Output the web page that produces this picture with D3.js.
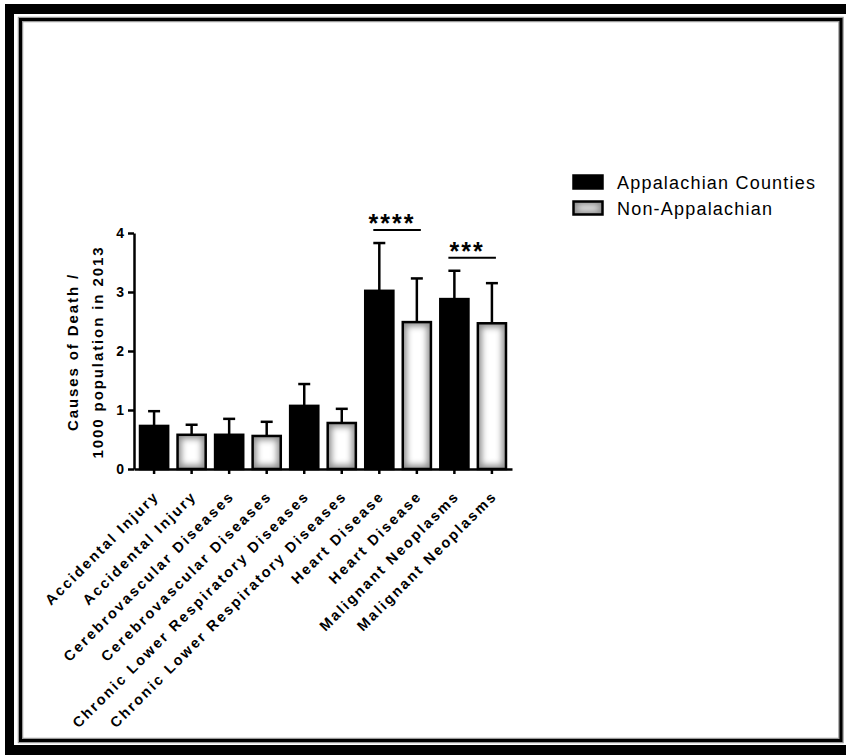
<!DOCTYPE html>
<html>
<head>
<meta charset="utf-8">
<script src="https://cdn.jsdelivr.net/npm/d3@7"></script>
<style>
  html, body { margin: 0; padding: 0; background: #fff; }
  svg { display: block; }
  text { font-family: Arial, "Liberation Sans", Helvetica, sans-serif; }
</style>
</head>
<body>
<svg id="chart" width="846" height="755"></svg>
<script>
// ---- Data ----
const categories = [
  "Accidental Injury", "Accidental Injury",
  "Cerebrovascular Diseases", "Cerebrovascular Diseases",
  "Chronic Lower Respiratory Diseases", "Chronic Lower Respiratory Diseases",
  "Heart Disease", "Heart Disease",
  "Malignant Neoplasms", "Malignant Neoplasms"
];
const groups = ["Appalachian Counties", "Non-Appalachian",
                "Appalachian Counties", "Non-Appalachian",
                "Appalachian Counties", "Non-Appalachian",
                "Appalachian Counties", "Non-Appalachian",
                "Appalachian Counties", "Non-Appalachian"];
const means = [0.73, 0.58, 0.58, 0.56, 1.07, 0.78, 3.02, 2.49, 2.88, 2.47];
const errorTops = [0.98, 0.75, 0.85, 0.80, 1.44, 1.02, 3.83, 3.23, 3.36, 3.15];
const yTicks = [0, 1, 2, 3, 4];
const legendLabels = ["Appalachian Counties", "Non-Appalachian"];
const sigFrom = [6, 8];
const sigTo = [7, 9];
const sigLabels = ["****", "***"];
const sigLevels = [4.05, 3.58];
const yTitleLines = ["Causes of Death /", "1000 population in 2013"];

// ---- Setup ----
const svg = d3.select("#chart");
const defs = svg.append("defs");
defs.append("filter").attr("id", "blur")
  .attr("x", "-50%").attr("y", "-50%").attr("width", "200%").attr("height", "200%")
  .append("feGaussianBlur").attr("stdDeviation", 3);

// frame
svg.append("rect").attr("x", 5).attr("y", 4).attr("width", 841).attr("height", 10).attr("fill", "#000");
svg.append("rect").attr("x", 5).attr("y", 4).attr("width", 9).attr("height", 751).attr("fill", "#000");
svg.append("rect").attr("x", 5).attr("y", 745).attr("width", 841).attr("height", 10).attr("fill", "#000");
svg.append("rect").attr("x", 20.5).attr("y", 19.5).attr("width", 820.5).attr("height", 721)
  .attr("fill", "none").attr("stroke", "#9a9a9a").attr("stroke-width", 5.5);
svg.append("rect").attr("x", 20.5).attr("y", 19.5).attr("width", 820.5).attr("height", 721)
  .attr("fill", "none").attr("stroke", "#000").attr("stroke-width", 3);

const idx = d3.range(categories.length);
const x = d3.scaleBand().domain(idx).range([134, 512]).paddingInner(0.25).paddingOuter(0.16);
const y = d3.scaleLinear().domain([0, 4]).range([469, 233]);
const color = d3.scaleOrdinal().domain(legendLabels).range(["#000", "gradient"]);

function drawBox(g, bx, by, bw, bh, kind) {
  if (kind === "#000") {
    g.append("rect").attr("x", bx).attr("y", by).attr("width", bw).attr("height", bh)
      .attr("fill", "#000").attr("stroke", "#000").attr("stroke-width", 2.5);
  } else {
    const clipId = "clip" + Math.round(bx) + "_" + Math.round(by);
    defs.append("clipPath").attr("id", clipId)
      .append("rect").attr("x", bx).attr("y", by).attr("width", bw).attr("height", bh);
    const inner = g.append("g").attr("clip-path", `url(#${clipId})`);
    inner.append("rect").attr("x", bx).attr("y", by).attr("width", bw).attr("height", bh)
      .attr("fill", "#8c8c8c");
    const ins = 4;
    inner.append("rect").attr("x", bx + ins).attr("y", by + ins)
      .attr("width", Math.max(0, bw - 2 * ins)).attr("height", Math.max(0, bh - 2 * ins))
      .attr("fill", "#fff").attr("filter", "url(#blur)");
    g.append("rect").attr("x", bx).attr("y", by).attr("width", bw).attr("height", bh)
      .attr("fill", "none").attr("stroke", "#000").attr("stroke-width", 2.5);
  }
}

// error bars
const capW = 12;
const eg = svg.append("g");
idx.forEach(i => {
  const cx = x(i) + x.bandwidth() / 2;
  eg.append("line").attr("x1", cx).attr("x2", cx).attr("y1", y(means[i])).attr("y2", y(errorTops[i]))
    .attr("stroke", "#000").attr("stroke-width", 2.5);
  eg.append("line").attr("x1", cx - capW / 2).attr("x2", cx + capW / 2)
    .attr("y1", y(errorTops[i])).attr("y2", y(errorTops[i]))
    .attr("stroke", "#000").attr("stroke-width", 2.5);
});

// bars
const bg = svg.append("g");
idx.forEach(i => {
  drawBox(bg, x(i), y(means[i]), x.bandwidth(), y(0) - y(means[i]), color(groups[i]));
});

// y axis
const yAxis = svg.append("g").attr("transform", `translate(134,0)`)
  .call(d3.axisLeft(y).tickValues(yTicks).tickFormat(d3.format("d")).tickSize(6).tickSizeOuter(0));
yAxis.select(".domain").attr("stroke-width", 2.5);
yAxis.selectAll(".tick line").attr("stroke-width", 2.5);
yAxis.selectAll(".tick text").attr("font-size", 14).attr("font-weight", "bold")
  .attr("x", -10).attr("fill", "#000");

// x axis
const xAxis = svg.append("g").attr("transform", `translate(0,469)`)
  .call(d3.axisBottom(x).tickFormat(i => categories[i]).tickSize(5).tickSizeOuter(0));
xAxis.select(".domain").attr("stroke-width", 2.5);
xAxis.selectAll(".tick line").attr("stroke-width", 2.5);
xAxis.selectAll(".tick text")
  .attr("font-size", 14.5).attr("font-weight", "bold").attr("fill", "#000")
  .attr("letter-spacing", "2.2px")
  .attr("text-anchor", "end")
  .attr("dy", null).attr("y", null)
  .attr("transform", "translate(6,28) rotate(-45)");

// y title
const yt = svg.append("text").attr("transform", "translate(78,352) rotate(-90)")
  .attr("text-anchor", "middle").attr("font-size", 15).attr("font-weight", "bold")
  .attr("letter-spacing", "1.9px");
yTitleLines.forEach((t, k) => {
  yt.append("tspan").attr("x", 0).attr("y", k * 25).text(t);
});

// significance
sigLabels.forEach((lab, k) => {
  const x1 = x(sigFrom[k]) + x.bandwidth() / 2 - 6;
  const x2 = x(sigTo[k]) + x.bandwidth() / 2 + 4;
  const ly = y(sigLevels[k]);
  svg.append("line").attr("x1", x1).attr("x2", x2).attr("y1", ly).attr("y2", ly)
    .attr("stroke", "#000").attr("stroke-width", 2);
  svg.append("text").attr("x", (x1 + x2) / 2 - 5).attr("y", ly + 2)
    .attr("text-anchor", "middle").attr("font-size", 25).attr("font-weight", "bold")
    .attr("letter-spacing", "2px").text(lab);
});

// legend
const lg = svg.append("g");
legendLabels.forEach((lab, k) => {
  const ly = 175 + k * 26;
  drawBox(lg, 573.5, ly + 0.5, 29, 13, color(lab));
  lg.append("text").attr("x", 617).attr("y", ly + 13.5)
    .attr("font-size", 18).attr("letter-spacing", "1.2px").attr("fill", "#000").text(lab);
});
</script>
</body>
</html>
